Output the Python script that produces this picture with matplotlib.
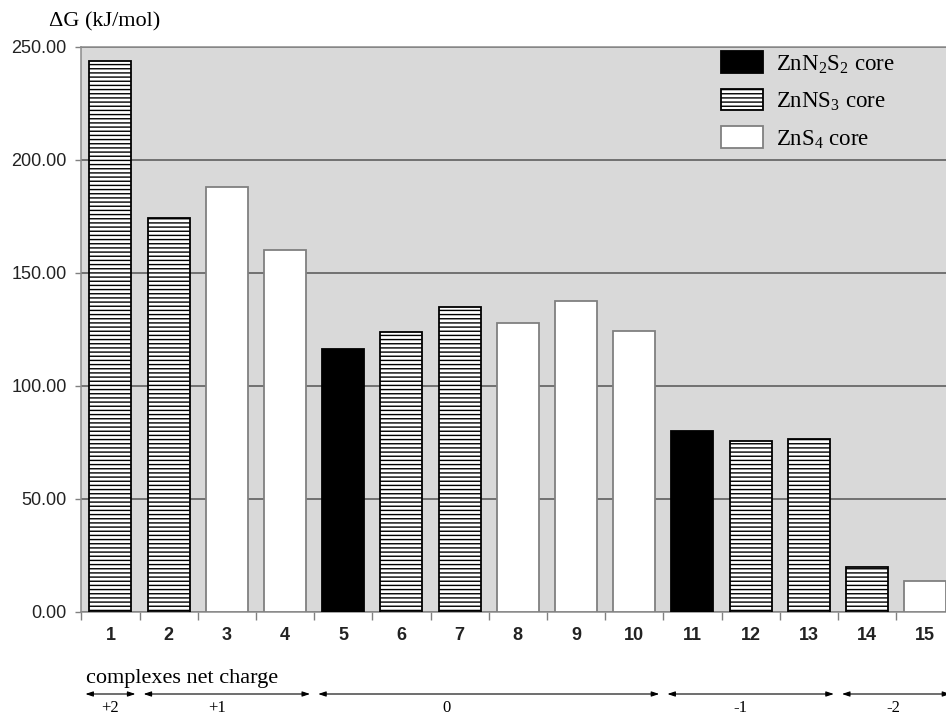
import numpy as np
import matplotlib
matplotlib.use("Agg")
import matplotlib.pyplot as plt
import matplotlib.transforms as mtransforms

# data
complex_ids = [str(i) for i in range(1, 16)]
delta_g = [243.5, 174.0, 188.0, 160.0, 116.2, 123.6, 135.0, 127.7, 137.6, 124.2,
           79.8, 75.5, 76.5, 19.6, 13.7]
core_type = ["NS3", "NS3", "S4", "S4", "N2S2", "NS3", "NS3", "S4", "S4", "S4",
             "N2S2", "NS3", "NS3", "NS3", "S4"]
charge_labels = ["+2", "+1", "0", "-1", "-2"]
charge_group_sizes = [1, 3, 6, 3, 2]

CORE_STYLE = {
    "N2S2": dict(color="black", edgecolor="black", hatch=None,
                 label=r"ZnN$_2$S$_2$ core"),
    "NS3": dict(color="white", edgecolor="black", hatch="----",
                label=r"ZnNS$_3$ core"),
    "S4": dict(color="white", edgecolor="#808080", hatch=None,
               label=r"ZnS$_4$ core"),
}

plt.rcParams["font.family"] = "Liberation Serif"
plt.rcParams["mathtext.fontset"] = "custom"
plt.rcParams["mathtext.rm"] = "Liberation Serif"
plt.rcParams["hatch.linewidth"] = 1.0

W, H = 946, 716
fig = plt.figure(figsize=(W / 100, H / 100), dpi=100)
ax = fig.add_axes([81.3 / W, 1 - 611.7 / H, 873 / W, 565 / H])
ax.set_facecolor("#d9d9d9")

x = np.arange(len(delta_g))
vals = np.array(delta_g)
cores = np.array(core_type)
for key in ["N2S2", "NS3", "S4"]:
    st = CORE_STYLE[key]
    idx = np.where(cores == key)[0]
    ax.bar(x[idx], vals[idx], width=0.72, color=st["color"],
           edgecolor=st["edgecolor"], hatch=st["hatch"], linewidth=1.3,
           label=st["label"], zorder=3)

ax.set_xlim(-0.5, len(delta_g) - 0.5)
ax.set_ylim(0, 250)
ax.set_yticks(np.arange(0, 251, 50))
ax.set_yticklabels([f"{v:.2f}" for v in np.arange(0, 251, 50)],
                   family="Liberation Sans", fontsize=13, color="#222222")
ax.set_xticks(x)
ax.set_xticklabels(complex_ids, family="Liberation Sans", fontsize=13,
                   fontweight="bold", color="#222222")
ax.set_xticks(np.arange(-0.5, len(delta_g)), minor=True)
ax.tick_params(axis="x", which="major", length=0, pad=11)
ax.tick_params(axis="x", which="minor", length=5.5, width=1.0, color="#808080")
ax.tick_params(axis="y", length=4.5, width=1.0, color="#808080", pad=6)

ax.yaxis.grid(True, color="#555555", linewidth=1.1)
ax.set_axisbelow(True)
for side in ["left", "bottom", "top"]:
    ax.spines[side].set_color("#8c8c8c")
    ax.spines[side].set_linewidth(1.1)
ax.spines["right"].set_visible(False)

leg = ax.legend(loc="upper left", bbox_to_anchor=(710 / W, 1 - 40 / H),
                bbox_transform=fig.transFigure, frameon=False, fontsize=16.5,
                handlelength=1.8, handleheight=1.05, handletextpad=0.6,
                labelspacing=0.57, borderpad=0)

fig.text(49 / W, 1 - 22 / H, "ΔG (kJ/mol)", fontsize=16, va="center")
fig.text(86 / W, 1 - 683 / H, "complexes net charge", fontsize=16,
         va="baseline")

# charge group arrows under the axis
trans = mtransforms.blended_transform_factory(ax.transData, fig.transFigure)
y_arrow = 1 - 694 / H
label_x = [0.0, 1.83, 5.78, 10.82, 13.45]
gap = 0.07
start = -0.5
for lab, n, lx in zip(charge_labels, charge_group_sizes, label_x):
    end = start + n
    ax.annotate("", xy=(end - gap, y_arrow), xytext=(start + gap, y_arrow),
                xycoords=trans, textcoords=trans, annotation_clip=False,
                arrowprops=dict(arrowstyle="<|-|>,head_length=0.45,head_width=0.15",
                                color="black", lw=0.8, shrinkA=0, shrinkB=0))
    ax.text(lx, 1 - 700 / H, lab, transform=trans, ha="center", va="top",
            fontsize=12)
    start = end

fig.savefig("out.png", dpi=100, facecolor="white")
